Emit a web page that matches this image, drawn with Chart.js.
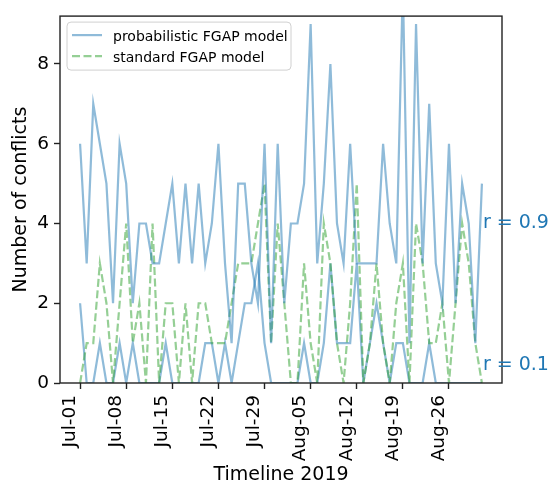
<!DOCTYPE html>
<html>
<head>
<meta charset="utf-8">
<script src="https://cdn.jsdelivr.net/npm/chart.js@4.4.0/dist/chart.umd.min.js"></script>
<style>
  html, body { margin: 0; padding: 0; background: #fff; }
</style>
</head>
<body>
<canvas id="conflictsChart" width="550" height="485"></canvas>
<script>
// daily conflict counts, Jul-01 .. Aug-31 2019
const probR09 = [6, 3, 7, 6, 5, 2, 6, 5, 2, 4,
                 4, 3, 3, 4, 5, 3, 5, 3, 5, 3,
                 4, 6, 3, 1, 5, 5, 3, 2, 6, 1,
                 6, 2, 4, 4, 5, 9, 3, 5, 8, 4,
                 3, 6, 3, 3, 3, 3, 6, 4, 3, 10,
                 1, 9, 3, 7, 3, 2, 6, 2, 5, 4,
                 1, 5];
const probR01 = [2, 0, 0, 1, 0, 0, 1, 0, 1, 0,
                 0, 0, 0, 1, 0, 0, 0, 0, 0, 1,
                 1, 0, 1, 0, 1, 2, 2, 3, 1, 0,
                 0, 0, 0, 0, 1, 0, 0, 1, 3, 1,
                 1, 1, 3, 0, 1, 2, 1, 0, 1, 1,
                 0, 0, 0, 1, 0, 0, 0, 0, 0, 0,
                 0, 0];
const standard = [0, 1, 1, 3, 2, 0, 2, 4, 1, 2,
                  0, 4, 0, 2, 2, 0, 2, 0, 2, 2,
                  1, 1, 1, 2, 3, 3, 3, 4, 5, 1,
                  4, 2, 0, 0, 3, 1, 0, 4, 3, 1,
                  0, 2, 5, 0, 1, 3, 1, 0, 2, 3,
                  0, 4, 3, 1, 1, 2, 0, 2, 4, 3,
                  1, 0];

// weekly ticks (days since Jul-01)
const tickDays = [0, 7, 14, 21, 28, 35, 42, 49, 56];
const tickLabels = ["Jul-01", "Jul-08", "Jul-15", "Jul-22", "Jul-29",
                    "Aug-05", "Aug-12", "Aug-19", "Aug-26"];
const yTicks = [0, 2, 4, 6, 8];

// r labels at the right end of the series
const rLabels = [
  { text: "r = 0.9", y: 4 },
  { text: "r = 0.1", y: 0.45 },
];

const BLUE = "rgba(31, 119, 180, 0.5)";
const GREEN = "rgba(44, 160, 44, 0.5)";
const FONT = "'DejaVu Sans', sans-serif";

Chart.defaults.font.family = FONT;
Chart.defaults.color = "#000";

const toPoints = (arr) => arr.map((v, i) => ({ x: i, y: v }));

const lineStyle = {
  pointRadius: 0,
  borderWidth: 2.2,
  tension: 0,
  fill: false,
};

// frame, legend box and r labels
const extras = {
  id: "extras",
  afterDatasetsDraw(chart) {
    const { ctx, chartArea: a, scales } = chart;
    ctx.save();

    ctx.strokeStyle = "#222";
    ctx.lineWidth = 1.4;
    ctx.strokeRect(a.left, a.top, a.right - a.left, a.bottom - a.top);

    ctx.fillStyle = "#1f77b4";
    ctx.font = "19px " + FONT;
    ctx.textBaseline = "middle";
    ctx.textAlign = "left";
    const xEnd = scales.x.getPixelForValue(probR09.length - 1) + 1;
    rLabels.forEach((r) => {
      ctx.fillText(r.text, xEnd, scales.y.getPixelForValue(r.y));
    });

    // legend
    const seen = {};
    const items = chart.data.datasets.filter((d) => {
      if (seen[d.label]) return false;
      seen[d.label] = true;
      return true;
    });
    const bx = a.left + 7, by = a.top + 6, bw = 224, bh = 48;
    ctx.beginPath();
    ctx.roundRect(bx, by, bw, bh, 4);
    ctx.fillStyle = "rgba(255, 255, 255, 0.8)";
    ctx.fill();
    ctx.strokeStyle = "#d0d0d0";
    ctx.lineWidth = 1;
    ctx.stroke();

    ctx.font = "14px " + FONT;
    ctx.textBaseline = "alphabetic";
    items.forEach((d, k) => {
      const ly = by + 13 + k * 21;
      ctx.beginPath();
      ctx.setLineDash(d.borderDash || []);
      ctx.strokeStyle = d.borderColor;
      ctx.lineWidth = d.borderWidth;
      ctx.moveTo(bx + 5, ly);
      ctx.lineTo(bx + 35, ly);
      ctx.stroke();
      ctx.setLineDash([]);
      ctx.fillStyle = "#000";
      ctx.fillText(d.label, bx + 46, ly + 5.5);
    });

    ctx.restore();
  },
};

new Chart(document.getElementById("conflictsChart"), {
  type: "line",
  data: {
    datasets: [
      { ...lineStyle, label: "probabilistic FGAP model", data: toPoints(probR09), borderColor: BLUE },
      { ...lineStyle, label: "standard FGAP model", data: toPoints(standard), borderColor: GREEN, borderDash: [8, 3.5] },
      { ...lineStyle, label: "probabilistic FGAP model", data: toPoints(probR01), borderColor: BLUE },
    ],
  },
  options: {
    responsive: false,
    animation: false,
    devicePixelRatio: 1,
    layout: { padding: { left: 0, right: 48, top: 11, bottom: 0 } },
    plugins: { legend: { display: false }, tooltip: { enabled: false } },
    scales: {
      x: {
        type: "linear",
        min: -3.05,
        max: 64.05,
        afterFit: (s) => { s.height = 102; },
        afterBuildTicks: (s) => { s.ticks = tickDays.map((v) => ({ value: v })); },
        grid: { drawOnChartArea: false, drawTicks: true, tickLength: 6, tickWidth: 1.4, tickColor: "#222" },
        border: { display: false },
        ticks: {
          minRotation: 90,
          maxRotation: 90,
          autoSkip: false,
          padding: 6,
          labelOffset: -10,
          font: { size: 18.5 },
          callback: (v) => tickLabels[tickDays.indexOf(v)],
        },
        title: { display: true, text: "Timeline 2019", font: { size: 19 }, padding: { top: 0, bottom: -1 } },
      },
      y: {
        min: 0,
        max: 9.2,
        afterFit: (s) => { s.width = 60; },
        afterBuildTicks: (s) => { s.ticks = yTicks.map((v) => ({ value: v })); },
        grid: { drawOnChartArea: false, drawTicks: true, tickLength: 6, tickWidth: 1.4, tickColor: "#222" },
        border: { display: false },
        ticks: { padding: 5, font: { size: 18.5 } },
        title: { display: true, text: "Number of conflicts", font: { size: 19 }, padding: { top: 10, bottom: 0 } },
      },
    },
  },
  plugins: [extras],
});
</script>
</body>
</html>
